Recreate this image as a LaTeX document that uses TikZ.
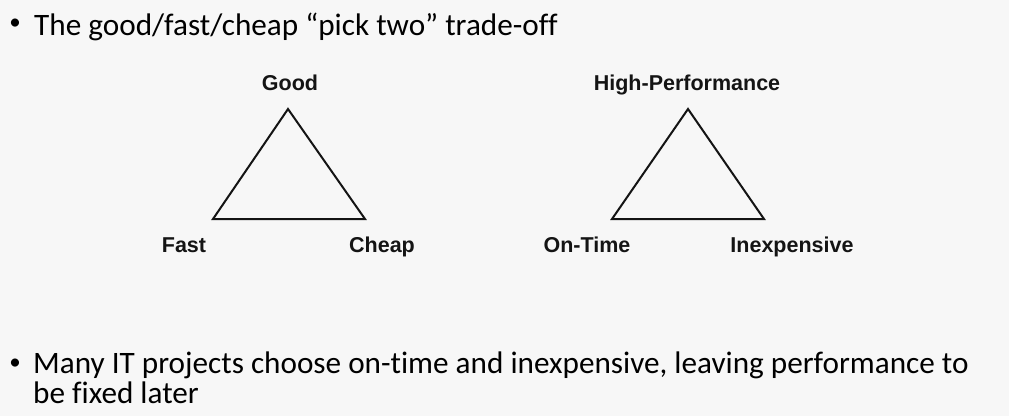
\documentclass[tikz,border=0pt]{standalone}
\usepackage{fontspec}
\setmainfont[RawFeature={-liga}]{Carlito}
\newfontfamily\labelfont{Liberation Sans}
\definecolor{bgc}{RGB}{247,247,247}
\definecolor{ink}{RGB}{20,20,20}
\begin{document}
\begin{tikzpicture}[x=1bp,y=-1bp,
  body/.style={inner sep=0pt,anchor=base west,text=black,font=\fontsize{31.2bp}{30bp}\selectfont},
  bul/.style={inner sep=0pt,anchor=center,text=black,font=\fontsize{23bp}{24bp}\selectfont},
  vlabel/.style={inner sep=0pt,anchor=base,text=ink,font=\labelfont\bfseries\fontsize{21.5bp}{24bp}\selectfont},
  tri/.style={draw=ink,line width=2bp,line join=miter}]
\path[fill=bgc] (0,0) rectangle (1009,416);
\useasboundingbox (0,0) rectangle (1009,416);
% title
\node[bul] (b1) at (15,24) {•};
\node[body] (t1) at (34,35) {The good/fast/cheap “pick two” trade-off};
% triangle 1
\coordinate (g) at (288,109);
\coordinate (f) at (213,219);
\coordinate (c) at (365,219);
\draw[tri] (g) -- (f) -- (c) -- cycle;
\node[vlabel] (lg) at (290,90) {Good};
\node[vlabel] (lf) at (184,252) {Fast};
\node[vlabel] (lc) at (382,252) {Cheap};
% triangle 2
\coordinate (h) at (688,109);
\coordinate (o) at (612,219);
\coordinate (i) at (764,219);
\draw[tri] (h) -- (o) -- (i) -- cycle;
\node[vlabel] (lh) at (687,90) {High-Performance};
\node[vlabel] (lo) at (587,252) {On-Time};
\node[vlabel] (li) at (792,252) {Inexpensive};
% bottom bullet
\node[bul] (b2) at (15,364) {•};
\node[body] (t2) at (33,373) {Many IT projects choose on-time and inexpensive, leaving performance to};
\node[body] (t3) at (33,403) {be fixed later};
\end{tikzpicture}
\end{document}
